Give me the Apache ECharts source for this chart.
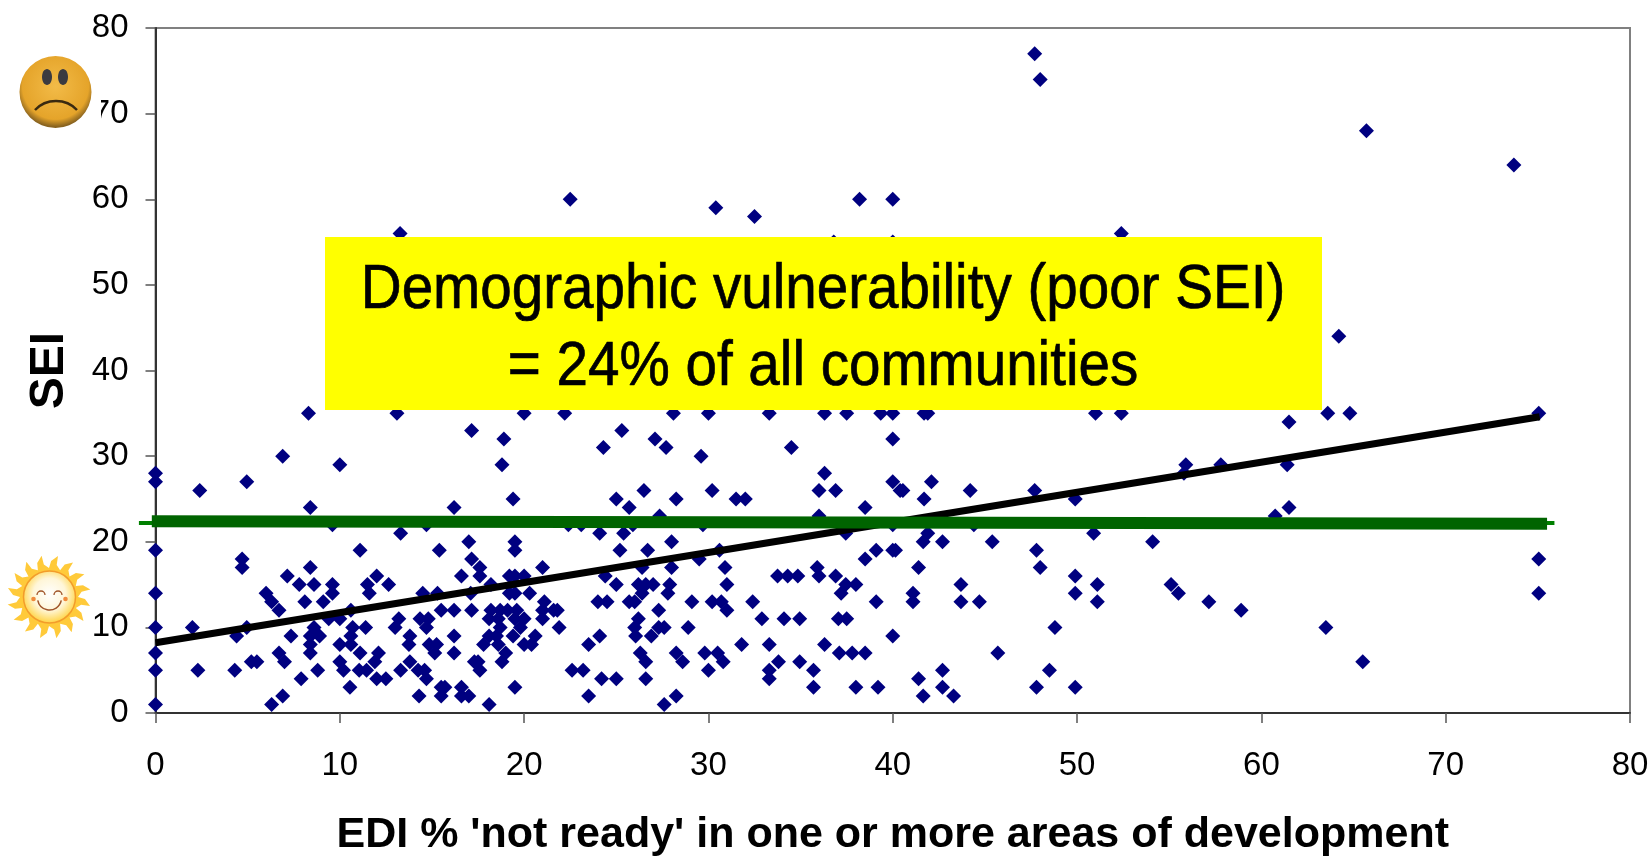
<!DOCTYPE html>
<html>
<head>
<meta charset="utf-8">
<script src="https://cdn.jsdelivr.net/npm/echarts@6/dist/echarts.min.js"></script>
<style>html,body{margin:0;padding:0;background:#fff;overflow:hidden}#c{width:1650px;height:856px}</style>
</head>
<body>
<div id="c"></div>
<script>
const xTitle = "EDI % 'not ready' in one or more areas of development";
const yTitle = "SEI";
const boxLines = ["Demographic vulnerability (poor SEI)", "= 24% of all communities"];
const trendLine = [[0, 8.2], [75.1, 34.6]];
const thresholdLine = [[-0.2, 22.4], [75.5, 22.1]];
const thresholdTails = [[-0.9, 22.2], [75.9, 22.2]];
const communities = [
[47.7,77],[48,74],[65.7,68],[73.7,64],
[22.5,60],[38.2,60],[40,60],[30.4,59],[32.5,58],[13.27,56],[52.4,56],[36.8,55],[40,55],[64.2,44],
[8.3,35],[13.1,35],[20,35],[22.2,35],[28.1,35],[30,35],[33.3,35],[36.3,35],[37.5,35],[39.35,35],[40,35],[41.7,35],[41.9,35],[51,35],[52.4,35],[63.6,35],[64.8,35],[75.05,35],
[61.5,34],[17.15,33],[25.3,33],[18.9,32],[27.1,32],[40,32],[24.3,31],[27.7,31],[34.5,31],[6.9,30],[29.6,30],
[10,29],[18.8,29],[55.9,29],[57.8,29],[61.4,29],[0,28],[36.3,28],[55.8,28],[0,27],[4.95,27],[40,27],[42.1,27],
[2.4,26],[26.5,26],[30.2,26],[36,26],[36.9,26],[40.4,26],[40.55,26],[44.2,26],[47.7,26],
[19.4,25],[25,25],[28.25,25],[31.5,25],[32,25],[41.7,25],[49.9,25],
[8.4,24],[16.2,24],[25.7,24],[38.5,24],[61.5,24],[27.35,23],[36,23],[60.75,23],
[9.6,22],[14.7,22],[22.4,22],[23.1,22],[25.9,22],[29.7,22],[40,22],[44.4,22],
[13.3,21],[24.1,21],[25.4,21],[37.45,21],[41.9,21],[50.9,21],
[17,20],[19.5,20],[28,20],[41.65,20],[42.7,20],[45.4,20],[54.1,20],
[0,19],[11.1,19],[15.4,19],[19.5,19],[25.2,19],[26.7,19],[30.6,19],[39.1,19],[40,19],[40.15,19],[47.8,19],
[4.7,18],[17.15,18],[29.5,18],[38.5,18],[75.05,18],
[4.7,17],[8.4,17],[17.6,17],[21,17],[26.4,17],[28,17],[30.9,17],[35.9,17],[41.4,17],[48,17],
[7.15,16],[12,16],[16.6,16],[17.6,16],[19.2,16],[19.5,16],[20,16],[24.4,16],[33.75,16],[34.3,16],[34.85,16],[36,16],[36.9,16],[49.9,16],
[7.8,15],[8.6,15],[9.6,15],[11.5,15],[12.65,15],[18.2,15],[25,15],[26.2,15],[26.6,15],[27,15],[27.9,15],[31,15],[37.45,15],[38,15],[43.7,15],[51.1,15],[55.1,15],
[0,14],[6,14],[9.6,14],[11.6,14],[14.5,14],[15.3,14],[17.1,14],[19.2,14],[19.5,14],[20.3,14],[26.4,14],[27.8,14],[37.2,14],[41.1,14],[49.9,14],[55.5,14],[75.05,14],
[6.3,13],[8.1,13],[9.1,13],[21.1,13],[24,13],[24.5,13],[25.7,13],[26,13],[29.1,13],[30.2,13],[30.7,13],[32.4,13],[39.1,13],[41.1,13],[43.7,13],[44.7,13],[51.1,13],[57.15,13],
[6.7,12],[10.6,12],[15.5,12],[16.2,12],[17.15,12],[18.2,12],[18.7,12],[19.1,12],[19.6,12],[21,12],[21.6,12],[21.8,12],[27.3,12],[31,12],[58.9,12],
[9.4,11],[10,11],[13.2,11],[14.35,11],[14.8,11],[18.1,11],[18.6,11],[19.5,11],[20,11],[21,11],[26.2,11],[32.9,11],[34.1,11],[34.95,11],[37.05,11],[37.5,11],
[0,10],[2,10],[4.95,10],[8.6,10],[10.7,10],[11.4,10],[13,10],[14.7,10],[18.7,10],[19.8,10],[21.9,10],[26,10],[27.3,10],[27.6,10],[28.9,10],[48.8,10],[63.5,10],
[4.4,9],[7.35,9],[8.4,9],[8.9,9],[10.6,9],[13.8,9],[16.2,9],[18.1,9],[18.5,9],[19.4,9],[20.6,9],[24.1,9],[26.05,9],[26.9,9],[40,9],
[8.4,8],[10,8],[10.6,8],[13.75,8],[14.85,8],[15.25,8],[17.8,8],[18.6,8],[20,8],[20.4,8],[23.5,8],[31.8,8],[33.3,8],[36.3,8],
[0,7],[6.7,7],[8.4,7],[11.1,7],[12.1,7],[15.15,7],[16.2,7],[19,7],[26.3,7],[28.25,7],[29.8,7],[30.5,7],[37.1,7],[37.8,7],[38.5,7],[45.7,7],
[5.2,6],[5.5,6],[7,6],[10,6],[11.9,6],[13.8,6],[17.3,6],[17.5,6],[18.8,6],[26.6,6],[28.6,6],[30.8,6],[33.8,6],[34.95,6],[65.5,6],
[0,5],[2.3,5],[4.3,5],[8.8,5],[10.2,5],[11.05,5],[11.45,5],[13.3,5],[14.25,5],[14.6,5],[17.6,5],[22.6,5],[23.2,5],[30,5],[33.3,5],[35.7,5],[42.7,5],[48.5,5],
[7.9,4],[12,4],[12.5,4],[14.7,4],[24.2,4],[25,4],[26.6,4],[33.3,4],[41.4,4],
[10.55,3],[15.5,3],[15.7,3],[16.6,3],[19.5,3],[35.7,3],[38,3],[39.2,3],[42.7,3],[47.8,3],[49.9,3],
[6.9,2],[14.3,2],[15.5,2],[16.6,2],[17,2],[23.5,2],[28.25,2],[41.65,2],[43.3,2],
[0,1],[6.3,1],[18.1,1],[27.6,1]
];

const FONT = '"Liberation Sans", Arial, sans-serif';
const chart = echarts.init(document.getElementById('c'), null, {renderer: 'canvas'});

function sunRays(cx, cy) {
  const pts = [];
  const n = 16;
  for (let i = 0; i < n; i++) {
    const a = i / n * Math.PI * 2;
    const step = Math.PI * 2 / n;
    pts.push([cx + 29 * Math.cos(a), cy + 29 * Math.sin(a)]);
    pts.push([cx + 36 * Math.cos(a + step * 0.15), cy + 36 * Math.sin(a + step * 0.15)]);
    pts.push([cx + 42 * Math.cos(a + step * 0.55), cy + 42 * Math.sin(a + step * 0.55)]);
    pts.push([cx + 33 * Math.cos(a + step * 0.6), cy + 33 * Math.sin(a + step * 0.6)]);
  }
  return pts;
}

const boxTextStyle = {fontFamily: FONT, fontSize: 63, fill: '#000', stroke: '#000', lineWidth: 0.7, align: 'center', verticalAlign: 'middle'};
const graphics = [
  {type: 'rect', z: 100, shape: {x: 325, y: 237, width: 997, height: 173}, style: {fill: '#ffff00'}},
  {type: 'text', z: 101, x: 823, y: 291, scaleX: 0.898, style: Object.assign({text: boxLines[0]}, boxTextStyle)},
  {type: 'text', z: 101, x: 823, y: 368, scaleX: 0.898, style: Object.assign({text: boxLines[1]}, boxTextStyle)},
  {type: 'rect', z: 90, shape: {x: 10, y: 46, width: 91, height: 94}, style: {fill: '#ffffff'}},
  {type: 'circle', z: 91, shape: {cx: 55.5, cy: 92, r: 36}, style: {fill: new echarts.graphic.RadialGradient(0.5, 0.42, 0.56, [
    {offset: 0, color: '#f2bb48'}, {offset: 0.82, color: '#e5a42a'}, {offset: 1, color: '#8a6420'}])}},
  {type: 'ellipse', z: 92, shape: {cx: 47, cy: 77, rx: 5, ry: 8}, style: {fill: '#3a3a40'}},
  {type: 'ellipse', z: 92, shape: {cx: 63, cy: 77, rx: 5, ry: 8}, style: {fill: '#3a3a40'}},
  {type: 'bezierCurve', z: 92, shape: {x1: 35, y1: 110, x2: 77, y2: 110, cpx1: 46, cpy1: 98, cpx2: 66, cpy2: 98}, style: {stroke: '#3a2a10', lineWidth: 2.5, fill: 'none'}},
  {type: 'polygon', z: 91, shape: {points: sunRays(49, 597)}, style: {fill: '#ffca3a'}},
  {type: 'circle', z: 92, shape: {cx: 49.5, cy: 597, r: 26}, style: {stroke: '#f39c2b', lineWidth: 1.5, fill: new echarts.graphic.RadialGradient(0.5, 0.45, 0.55, [
    {offset: 0, color: '#ffffff'}, {offset: 0.55, color: '#fff6d8'}, {offset: 1, color: '#ffd23c'}])}},
  {type: 'arc', z: 93, shape: {cx: 41, cy: 595, r: 4, startAngle: Math.PI, endAngle: 0}, style: {stroke: '#a0552a', lineWidth: 1.3, fill: 'none'}},
  {type: 'arc', z: 93, shape: {cx: 58, cy: 595, r: 4, startAngle: Math.PI, endAngle: 0}, style: {stroke: '#a0552a', lineWidth: 1.3, fill: 'none'}},
  {type: 'arc', z: 93, shape: {cx: 49.5, cy: 598, r: 12, startAngle: 0.2, endAngle: Math.PI - 0.2}, style: {stroke: '#a0552a', lineWidth: 1.5, fill: 'none'}},
  {type: 'circle', z: 93, shape: {cx: 33.5, cy: 599, r: 2.3}, style: {fill: '#f08a3c'}},
  {type: 'circle', z: 93, shape: {cx: 65.5, cy: 599, r: 2.3}, style: {fill: '#f08a3c'}}
];

const axisCommon = {
  type: 'value', min: 0, max: 80, interval: 10,
  splitLine: {show: false}, minorTick: {show: false},
  axisLine: {show: true, onZero: false, lineStyle: {color: '#333333', width: 2}},
  axisTick: {show: true, length: 10, lineStyle: {color: '#555555', width: 1.5}}
};

chart.setOption({
  animation: false,
  backgroundColor: '#ffffff',
  grid: {left: 155.5, top: 28, width: 1474.5, height: 685, show: true, borderColor: '#808080', borderWidth: 2, backgroundColor: 'transparent', containLabel: false, outerBoundsMode: 'none'},
  xAxis: Object.assign({}, axisCommon, {
    name: xTitle, nameLocation: 'middle', nameGap: 101,
    nameTextStyle: {fontFamily: FONT, fontWeight: 'bold', fontSize: 43, color: '#000'},
    axisLabel: {margin: 36, fontFamily: FONT, fontSize: 33, color: '#000', hideOverlap: false, showMinLabel: true, showMaxLabel: true}
  }),
  yAxis: Object.assign({}, axisCommon, {
    name: yTitle, nameLocation: 'middle', nameGap: 82, nameRotate: 90,
    nameTextStyle: {fontFamily: FONT, fontWeight: 'bold', fontSize: 48, color: '#000'},
    axisLabel: {margin: 27, fontFamily: FONT, fontSize: 33, color: '#000', hideOverlap: false, showMinLabel: true, showMaxLabel: true}
  }),
  series: [
    {type: 'scatter', z: 2, clip: false, symbol: 'diamond', symbolSize: 15, itemStyle: {color: '#000080', opacity: 1}, data: communities, silent: true},
    {type: 'line', z: 3, clip: false, data: trendLine, showSymbol: false, symbol: 'none', lineStyle: {color: '#000000', width: 7}, silent: true},
    {type: 'line', z: 5, clip: false, data: thresholdLine, showSymbol: false, symbol: 'none', lineStyle: {color: '#006400', width: 12}, silent: true}
  ],
  graphic: {elements: graphics}
});

// thin ends of the threshold line poke out past the thick stroke, also left of the y axis
const tailA = chart.convertToPixel({gridIndex: 0}, thresholdTails[0]);
const tailB = chart.convertToPixel({gridIndex: 0}, thresholdTails[1]);
chart.setOption({graphic: {elements: graphics.concat([
  {type: 'line', z: 1, shape: {x1: tailA[0], y1: tailA[1], x2: tailB[0], y2: tailB[1]}, style: {stroke: '#008000', lineWidth: 4}}
])}});
</script>
</body>
</html>
